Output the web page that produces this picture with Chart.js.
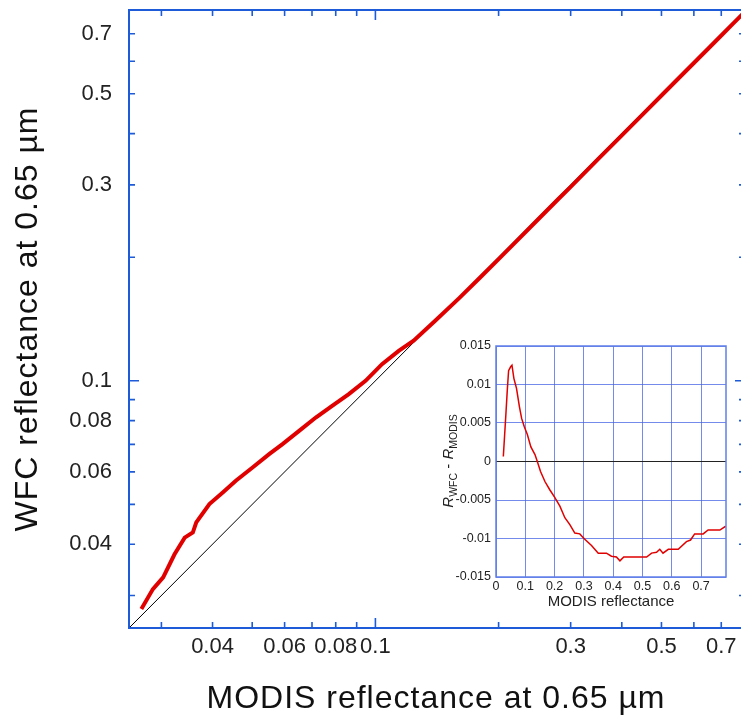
<!DOCTYPE html>
<html><head><meta charset="utf-8">
<script src="https://cdn.jsdelivr.net/npm/chart.js@4.4.1/dist/chart.umd.min.js"></script>
<style>
html,body{margin:0;padding:0;background:#fff;overflow:hidden;width:741px;height:715px;}
#main{position:absolute;left:0;top:0;width:760px;height:715px;}
#inset{position:absolute;left:420px;top:335px;width:321px;height:280px;}
</style></head><body>
<div id="main"><canvas id="c1"></canvas></div>
<div id="inset"><canvas id="c2"></canvas></div>
<script>
// ---- main plot data (MODIS vs WFC reflectance) ----
const modisX = [0.0268,0.0286,0.0303,0.0323,0.0342,0.0358,0.0365,0.0393,0.0423,0.0456,0.0501,0.055,0.0593,0.0651,0.0715,0.0784,0.0861,0.0946,0.1038,0.114,0.124,0.14,0.16,0.18,0.2,0.22,0.25,0.28,0.3,0.35,0.4,0.45,0.5,0.55,0.6,0.65,0.7,0.75,0.8];
const wfcY   = [0.0278,0.0311,0.0332,0.0378,0.0415,0.0427,0.0452,0.0501,0.0534,0.0571,0.0615,0.0663,0.0701,0.0755,0.0814,0.0869,0.0928,0.1000,0.1098,0.1183,0.1252,0.1400,0.1588,0.1782,0.1978,0.2177,0.2474,0.2772,0.2968,0.3465,0.3962,0.4456,0.4952,0.5448,0.5942,0.6438,0.6935,0.7432,0.7930];
const diagX = [0.025, 0.8];
const diagY = [0.025, 0.8];
const mainTickValues = [0.03,0.04,0.05,0.06,0.07,0.08,0.09,0.1,0.2,0.3,0.4,0.5,0.6,0.7];
const mainLabelValues = [0.04,0.06,0.08,0.1,0.3,0.5,0.7];
const mainLabelTexts  = ['0.04','0.06','0.08','0.1','0.3','0.5','0.7'];
const xTitle = 'MODIS reflectance at 0.65 µm';
const yTitle = 'WFC reflectance at 0.65 µm';

// ---- inset data (R_WFC - R_MODIS vs MODIS reflectance) ----
const insetX    = [0.025,0.034,0.0386,0.043,0.05,0.0545,0.061,0.07,0.08,0.0875,0.0966,0.107,0.119,0.133,0.141,0.152,0.167,0.184,0.201,0.218,0.235,0.252,0.269,0.286,0.303,0.326,0.349,0.377,0.394,0.411,0.423,0.436,0.451,0.514,0.531,0.548,0.559,0.57,0.588,0.622,0.65,0.664,0.678,0.707,0.724,0.764,0.784];
const insetDiff = [0.00065,0.0063,0.0093,0.0118,0.0123,0.0125,0.0108,0.0095,0.0071,0.0056,0.0045,0.0035,0.0019,0.0009,0,-0.0013,-0.0026,-0.0037,-0.0047,-0.0058,-0.0073,-0.0082,-0.0093,-0.0094,-0.0101,-0.0109,-0.0119,-0.0119,-0.0123,-0.0124,-0.0129,-0.0124,-0.0124,-0.0124,-0.0119,-0.0118,-0.0114,-0.0119,-0.0114,-0.0114,-0.0104,-0.0102,-0.0094,-0.0094,-0.0089,-0.0089,-0.0084];
const insetXTicks  = [0,0.1,0.2,0.3,0.4,0.5,0.6,0.7];
const insetXLabels = ['0','0.1','0.2','0.3','0.4','0.5','0.6','0.7'];
const insetYTicks  = [-0.015,-0.01,-0.005,0,0.005,0.01,0.015];
const insetYLabels = ['-0.015','-0.01','-0.005','0','0.005','0.01','0.015'];
const insetXTitle = 'MODIS reflectance';

const FONT = '"Liberation Sans", Arial, Helvetica, sans-serif';
const BLUE = '#1d5bd8';
const IBLUE = '#5f7fe8';
const IGRID = 'rgba(70,100,230,0.75)';

function labelFor(v){
  const i = mainLabelValues.findIndex(l => Math.abs(l - v) < 1e-9);
  return i >= 0 ? mainLabelTexts[i] : '';
}
function noPad(s){ s.paddingTop = 0; s.paddingBottom = 0; s.paddingLeft = 0; s.paddingRight = 0; }

const mainPlugin = {
  id: 'mainFrame',
  afterDatasetsDraw(chart){
    const {ctx, chartArea: a, scales: {x, y}} = chart;
    ctx.save();
    ctx.strokeStyle = BLUE;
    ctx.lineWidth = 2;
    ctx.strokeRect(a.left, a.top, a.right - a.left, a.bottom - a.top);
    ctx.lineWidth = 1.6;
    ctx.beginPath();
    mainTickValues.forEach(v => {
      const len = v === 0.1 ? 10 : 6;
      const px = x.getPixelForValue(v);
      ctx.moveTo(px, a.bottom); ctx.lineTo(px, a.bottom - len);
      ctx.moveTo(px, a.top); ctx.lineTo(px, a.top + len);
      const py = y.getPixelForValue(v);
      ctx.moveTo(a.left, py); ctx.lineTo(a.left + len, py);
      ctx.moveTo(a.right, py); ctx.lineTo(a.right - len, py);
    });
    ctx.stroke();
    ctx.fillStyle = '#111';
    ctx.font = '32px ' + FONT;
    ctx.letterSpacing = '1px';
    ctx.textAlign = 'center';
    ctx.textBaseline = 'alphabetic';
    ctx.fillText(xTitle, 436, 708);
    ctx.translate(37, (a.top + a.bottom) / 2);
    ctx.rotate(-Math.PI / 2);
    ctx.fillText(yTitle, 0, 0);
    ctx.restore();
  }
};

new Chart(document.getElementById('c1'), {
  type: 'scatter',
  data: { datasets: [
    { data: modisX.map((v, i) => ({x: v, y: wfcY[i]})), showLine: true, borderColor: '#e00000', borderWidth: 4, pointRadius: 0, order: 0 },
    { data: diagX.map((v, i) => ({x: v, y: diagY[i]})), showLine: true, borderColor: '#000', borderWidth: 1, pointRadius: 0, order: 1 }
  ]},
  options: {
    responsive: true, maintainAspectRatio: false, animation: false,
    plugins: { legend: {display: false}, tooltip: {enabled: false} },
    layout: { padding: {left: 0, top: 10, right: 15, bottom: 0} },
    scales: {
      x: { type: 'logarithmic', min: 0.025, max: 0.8, position: 'bottom',
        grid: {display: false, drawTicks: false}, border: {display: false},
        afterBuildTicks: s => { s.ticks = mainTickValues.map(v => ({value: v})); },
        afterFit: s => { s.height = 87; noPad(s); },
        ticks: { autoSkip: false, maxRotation: 0, minRotation: 0, padding: 6, color: '#222', font: {size: 22, family: FONT}, callback: v => labelFor(v) } },
      y: { type: 'logarithmic', min: 0.025, max: 0.8, position: 'left',
        grid: {display: false, drawTicks: false}, border: {display: false},
        afterBuildTicks: s => { s.ticks = mainTickValues.map(v => ({value: v})); },
        afterFit: s => { s.width = 129; noPad(s); },
        ticks: { autoSkip: false, padding: 17, color: '#222', font: {size: 22, family: FONT}, callback: v => labelFor(v) } }
    }
  },
  plugins: [mainPlugin]
});

const insetPlugin = {
  id: 'insetFrame',
  afterDraw(chart){
    const {ctx, chartArea: a} = chart;
    ctx.save();
    ctx.strokeStyle = IBLUE;
    ctx.lineWidth = 1.5;
    ctx.strokeRect(a.left, a.top, a.right - a.left, a.bottom - a.top);
    ctx.fillStyle = '#222';
    ctx.font = '15px ' + FONT;
    ctx.textAlign = 'center';
    ctx.textBaseline = 'middle';
    ctx.fillText(insetXTitle, (a.left + a.right) / 2, 267);
    // rotated y title with subscripts
    const big = 'italic 15px ' + FONT, norm = '15px ' + FONT, small = '10.5px ' + FONT;
    const parts = [['R', big, 0], ['WFC', small, 4], [' - ', norm, 0], ['R', big, 0], ['MODIS', small, 4]];
    let total = 0;
    parts.forEach(p => { ctx.font = p[1]; total += ctx.measureText(p[0]).width; });
    ctx.translate(33, 126);
    ctx.rotate(-Math.PI / 2);
    ctx.textAlign = 'left';
    ctx.textBaseline = 'alphabetic';
    let cx = -total / 2;
    parts.forEach(p => { ctx.font = p[1]; ctx.fillText(p[0], cx, p[2]); cx += ctx.measureText(p[0]).width; });
    ctx.restore();
  }
};

new Chart(document.getElementById('c2'), {
  type: 'scatter',
  data: { datasets: [
    { data: insetX.map((v, i) => ({x: v, y: insetDiff[i]})), showLine: true, borderColor: '#e00000', borderWidth: 1.5, pointRadius: 0 }
  ]},
  options: {
    responsive: true, maintainAspectRatio: false, animation: false,
    plugins: { legend: {display: false}, tooltip: {enabled: false} },
    layout: { padding: {left: 0, top: 11, right: 15, bottom: 0} },
    scales: {
      x: { type: 'linear', min: 0, max: 0.785,
        grid: {color: IGRID, lineWidth: 1, drawTicks: false}, border: {display: false},
        afterBuildTicks: s => { s.ticks = insetXTicks.map(v => ({value: v})); },
        afterFit: s => { s.height = 38; noPad(s); },
        ticks: { autoSkip: false, maxRotation: 0, minRotation: 0, padding: 2, color: '#222', font: {size: 12.5, family: FONT}, callback: (v, i) => insetXLabels[i] } },
      y: { type: 'linear', min: -0.015, max: 0.015,
        grid: {color: c => (c.tick && c.tick.value === 0) ? '#222' : IGRID, lineWidth: 1, drawTicks: false}, border: {display: false},
        afterBuildTicks: s => { s.ticks = insetYTicks.map(v => ({value: v})); },
        afterFit: s => { s.width = 76; noPad(s); },
        ticks: { autoSkip: false, padding: 5, color: '#222', font: {size: 12.5, family: FONT}, callback: (v, i) => insetYLabels[i] } }
    }
  },
  plugins: [insetPlugin]
});
</script>
</body></html>
